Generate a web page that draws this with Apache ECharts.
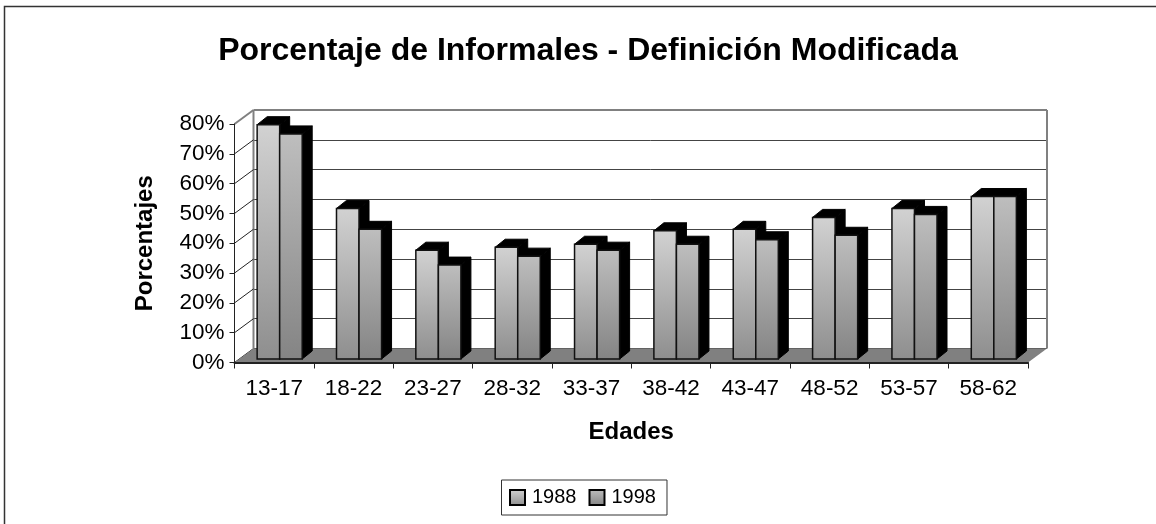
<!DOCTYPE html>
<html>
<head>
<meta charset="utf-8">
<script src="https://cdn.jsdelivr.net/npm/echarts@6/dist/echarts.min.js"></script>
<style>
html,body{margin:0;padding:0;background:#fff;}
#main{width:1156px;height:524px;}
</style>
</head>
<body>
<div id="main"></div>
<script>
var categories = ['13-17','18-22','23-27','28-32','33-37','38-42','43-47','48-52','53-57','58-62'];
var values1988 = [0.786,0.505,0.365,0.375,0.385,0.43,0.435,0.475,0.505,0.545];
var values1998 = [0.755,0.435,0.315,0.345,0.365,0.385,0.40,0.415,0.485,0.545];
var yTicks = [0,0.1,0.2,0.3,0.4,0.5,0.6,0.7,0.8];

var FONT = '"Liberation Sans", Arial, sans-serif';
var myChart = echarts.init(document.getElementById('main'));

function grad(top, bottom){
	return new echarts.graphic.LinearGradient(0,0,0,1,[{offset:0,color:top},{offset:1,color:bottom}]);
}
var fill1988 = grad('#d2d2d2','#8e8e8e');
var fill1998 = grad('#bebebe','#848484');

// pared del fondo y piso: desplazados por la profundidad
var wallDx = 19, wallDy = -14;
function renderWalls(params, api){
	var cs = params.coordSys;
	var v = api.value(0);
	var y = api.coord([0,v])[1];
	var x0 = cs.x, x1 = cs.x + cs.width;
	var children = [];
	children.push({type:'line',shape:{x1:x0,y1:y,x2:x0+wallDx,y2:y+wallDy},
		style:{stroke: v==0.8 ? '#808080' : '#222',lineWidth: v==0.8 ? 2 : 1}});
	if(v==0){
		children.push({type:'polygon',shape:{points:[[x0,y],[x1,y],[x1+wallDx,y+wallDy],[x0+wallDx,y+wallDy]]},
			style:{fill:'#808080'}});
		children.push({type:'line',shape:{x1:x1+wallDx,y1:y+wallDy,x2:x1+wallDx,y2:cs.y+wallDy},
			style:{stroke:'#808080',lineWidth:2}});
		children.push({type:'line',shape:{x1:x0+wallDx,y1:y+wallDy,x2:x0+wallDx,y2:cs.y+wallDy},
			style:{stroke:'#808080',lineWidth:2}});
	}
	if(v==0.8){
		children.push({type:'line',shape:{x1:x0+wallDx,y1:y+wallDy,x2:x1+wallDx,y2:y+wallDy},
			style:{stroke:'#808080',lineWidth:2}});
	}
	return {type:'group',children:children};
}

// barras 3D: cara frontal, tapa y costado negros
function barRenderer(slot, fill){
	return function(params, api){
		var i = api.value(0);
		var base = api.coord([i,0]);
		var top = api.coord([i,api.value(1)]);
		var w = api.size([1,0])[0]*0.284;
		var ox = 5.5, oy = -3.5, dx = 10, dy = -8;
		var x = base[0] + ox - w + slot*w;
		var yb = base[1] + oy, yt = top[1] + oy;
		return {type:'group',children:[
			{type:'polygon',shape:{points:[[x,yt],[x+dx,yt+dy],[x+w+dx,yt+dy],[x+w,yt]]},style:{fill:'#000',stroke:'#000',lineWidth:1}},
			{type:'polygon',shape:{points:[[x+w,yt],[x+w+dx,yt+dy],[x+w+dx,yb+dy],[x+w,yb]]},style:{fill:'#000',stroke:'#000',lineWidth:1}},
			{type:'rect',shape:{x:x,y:yt,width:w,height:yb-yt},style:{fill:fill,stroke:'#111',lineWidth:1.5}}
		]};
	};
}

var option = {
	animation:false,
	backgroundColor:'#fff',
	title:{
		text:'Porcentaje de Informales - Definición Modificada',
		left:583,top:30,textAlign:'center',
		textStyle:{fontFamily:FONT,fontSize:32,fontWeight:'bold',color:'#000'}
	},
	legend:{
		left:501.5,top:480,orient:'horizontal',
		data:['1988','1998'],
		itemWidth:15,itemHeight:15,itemGap:12,
		padding:[7.5,11,7.5,7.5],
		borderColor:'#333',borderWidth:1,backgroundColor:'#fff',
		textStyle:{fontFamily:FONT,fontSize:20,color:'#000',padding:[0,0,0,2]},
		icon:'rect'
	},
	grid:[
		{left:234.5,top:124,width:793.5,height:238.5},
		{left:253.5,top:110,width:793.5,height:238.5}
	],
	xAxis:[
		{type:'category',gridIndex:0,data:categories,z:5,
			name:'Edades',nameLocation:'middle',nameGap:58,
			nameTextStyle:{fontFamily:FONT,fontSize:24,fontWeight:'bold',color:'#000'},
			axisLine:{lineStyle:{color:'#222',width:2}},
			axisTick:{show:true,length:6,alignWithLabel:false,lineStyle:{color:'#222'}},
			axisLabel:{fontFamily:FONT,fontSize:22.5,color:'#000',margin:15,interval:0},
			splitLine:{show:false}},
		{type:'category',gridIndex:1,data:categories,show:false}
	],
	yAxis:[
		{type:'value',gridIndex:0,min:0,max:0.8,interval:0.1,z:5,
			name:'Porcentajes',nameLocation:'middle',nameGap:77,
			nameTextStyle:{fontFamily:FONT,fontSize:24,fontWeight:'bold',color:'#000'},
			axisLine:{show:true,lineStyle:{color:'#222',width:1}},
			axisTick:{show:true,length:5,lineStyle:{color:'#222'}},
			axisLabel:{fontFamily:FONT,fontSize:22.5,color:'#000',margin:10,
				formatter:function(v){return Math.round(v*100)+'%';}},
			splitLine:{show:false}},
		{type:'value',gridIndex:1,min:0,max:0.8,interval:0.1,
			axisLine:{show:false},axisTick:{show:false},axisLabel:{show:false},
			splitLine:{show:true,lineStyle:{color:'#444',width:1}}}
	],
	series:[
		{type:'custom',name:'paredes',xAxisIndex:0,yAxisIndex:0,z:1,silent:true,
			renderItem:renderWalls,encode:{y:0},dimensions:['v'],
			data:yTicks.map(function(v){return [v];})},
		{type:'custom',name:'1988',xAxisIndex:0,yAxisIndex:0,z:3,
			renderItem:barRenderer(0,fill1988),encode:{x:0,y:1},
			itemStyle:{color:fill1988,borderColor:'#000',borderWidth:2},
			data:values1988.map(function(v,i){return [i,v];})},
		{type:'custom',name:'1998',xAxisIndex:0,yAxisIndex:0,z:3,
			renderItem:barRenderer(1,fill1998),encode:{x:0,y:1},
			itemStyle:{color:fill1998,borderColor:'#000',borderWidth:2},
			data:values1998.map(function(v,i){return [i,v];})}
	],
	graphic:[{type:'rect',z:-1,silent:true,shape:{x:4.5,y:6.5,width:1170,height:530},
		style:{fill:'none',stroke:'#333',lineWidth:1.5}}]
};
myChart.setOption(option);
</script>
</body>
</html>
